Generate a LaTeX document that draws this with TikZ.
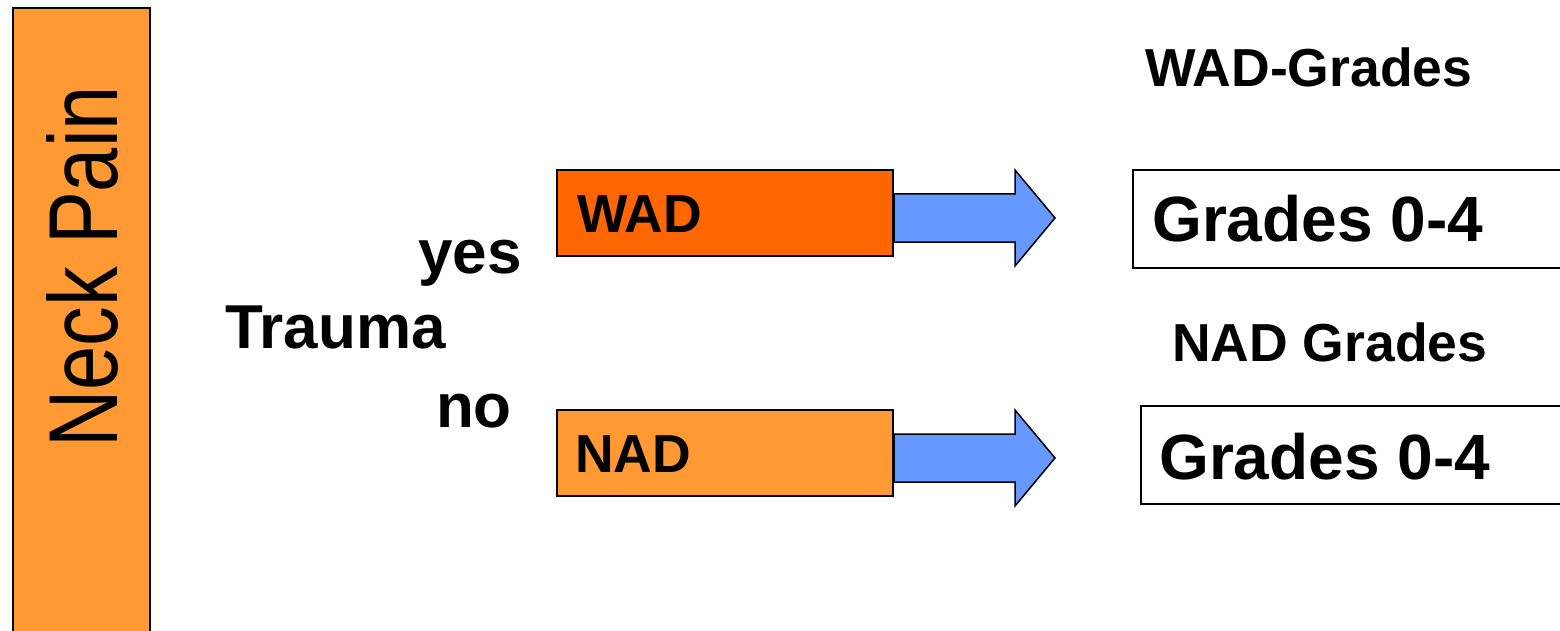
\documentclass[tikz,border=0pt]{standalone}
\usepackage{fontspec}
\setmainfont{Liberation Sans}
\usetikzlibrary{calc}
\definecolor{orangeL}{HTML}{FF9933}
\definecolor{orangeD}{HTML}{FF6600}
\definecolor{blueA}{HTML}{6699FF}
\begin{document}
\begin{tikzpicture}[x=1pt,y=-1pt,
  box/.style={draw=black, line width=2pt, inner sep=0pt, anchor=north west},
  lbl/.style={inner sep=0pt, text=black},
  blockarrow/.style={draw=black, line width=1.5pt, fill=blueA, line join=miter},
  big/.style={font=\fontsize{64}{64}\selectfont\bfseries},
  mid/.style={font=\fontsize{53.5}{53.5}\selectfont\bfseries},
  tr/.style={font=\fontsize{62}{62}\selectfont\bfseries}]
\useasboundingbox (0,0) rectangle (1560,631);
% boxes
\node[box, fill=orangeL, minimum width=137pt, minimum height=650pt] (neck) at (12,7) {};
\node[box, fill=orangeD, minimum width=336pt, minimum height=86pt] (wad) at (556,169) {};
\node[box, fill=orangeL, minimum width=336pt, minimum height=86pt] (nad) at (556,409) {};
\node[box, fill=white, minimum width=440pt, minimum height=98pt] (g1) at (1132,169) {};
\node[box, fill=white, minimum width=432pt, minimum height=98pt] (g2) at (1140,405) {};
% block arrows
\coordinate (a1) at ($(wad.east)+(0,5)$);
\coordinate (a2) at ($(nad.east)+(0,5)$);
\draw[blockarrow] ($(a1)+(0,-24)$) -- ++(121,0) -- ++(0,-24) -- ($(a1)+(161,0)$)
  -- ($(a1)+(121,48)$) -- ++(0,-24) -- ($(a1)+(0,24)$) -- cycle;
\draw[blockarrow] ($(a2)+(0,-24)$) -- ++(121,0) -- ++(0,-24) -- ($(a2)+(161,0)$)
  -- ($(a2)+(121,48)$) -- ++(0,-24) -- ($(a2)+(0,24)$) -- cycle;
% texts
\node[lbl, rotate=90, anchor=base west] (neckt) at (117,448)
  {\scalebox{0.81}[1]{\fontsize{98}{98}\selectfont Neck Pain}};
\node[lbl, mid, anchor=base west] (wadt) at (577,232) {WAD};
\node[lbl, mid, anchor=base west] (nadt) at (575,472) {NAD};
\node[lbl, big, anchor=base west] (g1t) at (1152,241) {Grades 0-4};
\node[lbl, big, anchor=base west] (g2t) at (1159,479) {Grades 0-4};
\node[lbl, mid, anchor=base west] (wgt) at (1145,87) {WAD-Grades};
\node[lbl, mid, anchor=base west] (ngt) at (1172,361) {NAD Grades};
\node[lbl, tr, anchor=base east] (yes) at (522,273) {yes};
\node[lbl, tr, anchor=base west] (trauma) at (225,348) {Trauma};
\node[lbl, tr, anchor=base east] (no) at (512,427) {no};
\end{tikzpicture}
\end{document}
